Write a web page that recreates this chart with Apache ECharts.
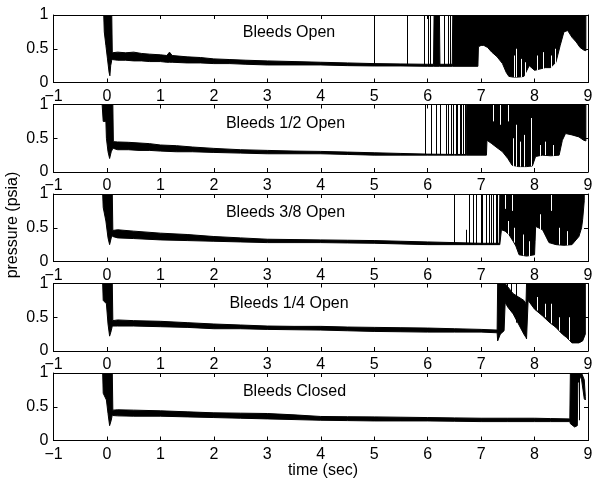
<!DOCTYPE html>
<html><head><meta charset="utf-8">
<script src="https://cdn.jsdelivr.net/npm/echarts@6/dist/echarts.min.js"></script>
<style>html,body{margin:0;padding:0;background:#fff}#c{width:597px;height:485px}</style>
</head><body><div id="c"></div>
<script>
// ---- data ----
const xMin = -1, xMax = 9, xStep = 1;
const yMin = 0, yMax = 1, yStep = 0.5;
const titles = ['Bleeds Open', 'Bleeds 1/2 Open', 'Bleeds 3/8 Open', 'Bleeds 1/4 Open', 'Bleeds Closed'];
const xName = 'time (sec)';
const yName = 'pressure (psia)';

// Panel 1: Bleeds Open (time, lower envelope, upper envelope of the trace)
const t1 = [-0.06,-0.05,-0.02,0.01,0.04,0.055,0.07,0.09,0.1,0.2,0.35,0.5,0.65,0.8,1.0,1.12,1.17,1.22,1.5,1.75,2.0,2.3,2.6,3.0,3.5,4.0,4.5,5.0,5.5,6.0,6.11,6.12,6.22,6.23,6.46,6.47,6.94,6.95,
  7.0,7.05,7.12,7.2,7.3,7.4,7.47,7.52,7.6,7.7,7.8,7.9,8.0,8.1,8.2,8.3,8.4,8.48,8.55,8.62,8.7,8.78,8.85,8.92,8.96];
const lo1 = [1.0,0.75,0.55,0.35,0.15,0.1,0.25,0.33,0.34,0.33,0.33,0.32,0.32,0.31,0.31,0.30,0.30,0.30,0.29,0.29,0.28,0.28,0.27,0.26,0.26,0.26,0.25,0.245,0.245,0.24,0.24,0.24,0.24,0.24,0.24,0.24,0.24,0.53,
  0.55,0.55,0.52,0.45,0.38,0.28,0.15,0.09,0.08,0.08,0.09,0.25,0.18,0.2,0.22,0.22,0.3,0.55,0.75,0.77,0.67,0.6,0.52,0.48,0.47];
const hi1 = [1,1,1,1,1,1,1,1,0.44,0.45,0.44,0.45,0.43,0.42,0.41,0.40,0.45,0.40,0.38,0.37,0.35,0.34,0.33,0.32,0.31,0.30,0.29,0.28,0.275,0.27,0.27,1,1,0.27,0.27,1,1,1,
  1,1,1,1,1,1,1,1,1,1,1,1,1,1,1,1,1,1,1,1,1,1,1,1,1];
// isolated excursions (time, from, to)
const sT1 = [5.0,5.62,5.93,6.0,6.05,6.3,6.38,6.42];
const sB1 = [0.26,0.26,0.25,0.25,0.25,0.25,0.25,0.25];
const sH1 = [1,1,1,1,1,1,1,1];
// white gaps inside the dense region (time, from, to)
const gT1 = [7.62,7.66,7.75,7.82,8.05,8.15,8.3,8.38];
const gB1 = [0.08,0.08,0.08,0.1,0.18,0.2,0.22,0.28];
const gH1 = [0.4,0.5,0.35,0.3,0.4,0.45,0.4,0.5];

// Panel 2: Bleeds 1/2 Open
const t2 = [-0.09,-0.07,-0.02,-0.01,0.02,0.05,0.08,0.11,0.12,0.2,0.4,0.6,0.8,1.0,1.3,1.6,2.0,2.5,3.0,3.5,4.0,4.5,5.0,5.5,6.0,6.5,6.72,
  6.73,7.1,7.11,7.2,7.28,7.4,7.5,7.58,7.7,7.85,7.96,8.02,8.15,8.3,8.46,8.52,8.58,8.7,8.83,8.92,8.96];
const lo2 = [1,0.75,0.75,0.5,0.3,0.2,0.3,0.35,0.35,0.33,0.33,0.32,0.32,0.31,0.30,0.30,0.29,0.28,0.27,0.27,0.27,0.26,0.25,0.25,0.25,0.25,0.25,
  0.25,0.25,0.47,0.42,0.37,0.3,0.2,0.1,0.08,0.08,0.09,0.23,0.25,0.24,0.25,0.47,0.57,0.55,0.52,0.47,0.46];
const hi2 = [1,1,1,1,1,1,1,1,0.45,0.445,0.44,0.43,0.42,0.40,0.39,0.37,0.35,0.33,0.32,0.31,0.305,0.295,0.285,0.275,0.265,0.26,0.26,
  1,1,1,1,1,1,1,1,1,1,1,1,1,1,1,1,1,1,1,1,1];
const sT2 = [5.95,6.07,6.15,6.24,6.34,6.38,6.43,6.48,6.53,6.55,6.6,6.63,6.66,6.69];
const sB2 = [0.26,0.26,0.26,0.26,0.26,0.26,0.26,0.26,0.26,0.26,0.26,0.26,0.26,0.26];
const sH2 = [1,1,1,1,1,1,1,1,1,1,1,1,1,1];
const gT2 = [7.22,7.35,7.5,7.6,7.65,7.72,7.8,7.93,8.1,8.2,8.35];
const gB2 = [0.75,0.7,0.75,0.09,0.08,0.08,0.08,0.09,0.24,0.25,0.24];
const gH2 = [1,1,1,0.5,0.7,0.45,0.55,0.8,0.4,0.45,0.4];

// Panel 3: Bleeds 3/8 Open
const t3 = [-0.08,-0.07,-0.02,0.02,0.05,0.08,0.1,0.11,0.2,0.5,1.0,1.5,2.0,2.5,3.0,3.5,4.0,4.5,5.0,5.5,6.0,6.5,7.0,7.34,
  7.35,7.38,7.45,7.52,7.6,7.65,7.71,7.85,8.0,8.01,8.02,8.15,8.27,8.4,8.55,8.7,8.83,8.88,8.9,8.93];
const lo3 = [1,0.8,0.6,0.35,0.25,0.35,0.38,0.37,0.35,0.34,0.32,0.31,0.30,0.29,0.28,0.28,0.28,0.275,0.27,0.26,0.25,0.25,0.25,0.25,
  0.25,0.47,0.45,0.4,0.3,0.23,0.1,0.08,0.1,0.3,0.52,0.47,0.28,0.25,0.24,0.25,0.37,0.5,0.62,0.9];
const hi3 = [1,1,1,1,1,1,1,0.46,0.47,0.45,0.42,0.40,0.37,0.35,0.33,0.325,0.32,0.315,0.31,0.30,0.29,0.28,0.27,0.27,
  1,1,1,1,1,1,1,1,1,1,1,1,1,1,1,1,1,1,1,1];
const sT3 = [6.49,6.72,6.78,6.84,6.9,6.99,7.02,7.09,7.15,7.19,7.23,7.27,7.3];
const sB3 = [0.25,0.25,0.25,0.25,0.25,0.25,0.25,0.25,0.25,0.25,0.25,0.25,0.25];
const sH3 = [1,0.47,1,1,1,1,1,1,1,1,1,1,1];
const gT3 = [7.45,7.5,7.58,7.62,7.78,7.9,8.1,8.3,8.45,8.6];
const gB3 = [0.78,0.4,0.75,0.28,0.09,0.08,0.47,0.75,0.25,0.24];
const gH3 = [1,0.6,1,0.5,0.4,0.3,0.7,1,0.5,0.45];

// Panel 4: Bleeds 1/4 Open
const t4 = [-0.08,-0.07,-0.01,0.02,0.05,0.08,0.1,0.11,0.2,0.5,1.0,1.5,2.0,2.5,3.0,3.5,4.0,4.5,5.0,5.5,6.0,6.5,7.0,7.3,
  7.31,7.36,7.43,7.45,7.5,7.6,7.7,7.8,7.84,7.85,7.88,8.0,8.15,8.27,8.4,8.52,8.6,8.7,8.83,8.9,8.95];
const lo4 = [1,0.75,0.7,0.4,0.22,0.3,0.37,0.37,0.37,0.37,0.36,0.35,0.33,0.33,0.32,0.315,0.31,0.30,0.29,0.285,0.28,0.28,0.28,0.27,
  0.15,0.25,0.3,0.72,0.65,0.55,0.4,0.25,0.2,0.18,0.75,0.62,0.52,0.43,0.35,0.25,0.2,0.12,0.12,0.15,0.25];
const hi4 = [1,1,1,1,1,1,1,0.45,0.46,0.45,0.44,0.42,0.40,0.385,0.37,0.365,0.365,0.355,0.35,0.345,0.34,0.33,0.32,0.31,
  1,1,1,1,0.95,0.85,0.8,0.75,0.7,1,1,1,1,1,1,1,1,1,1,1,1];
const sT4 = [7.48,7.56,7.66];
const sB4 = [0.7,0.58,0.42];
const sH4 = [1,1,1];
const gT4 = [8.05,8.2,8.3,8.45,8.65];
const gB4 = [0.6,0.5,0.41,0.3,0.16];
const gH4 = [0.8,0.7,0.7,0.5,0.5];

// Panel 5: Bleeds Closed
const t5 = [-0.08,-0.07,-0.01,0.02,0.05,0.08,0.1,0.11,0.2,0.5,1.0,1.5,2.0,2.5,3.0,3.5,4.0,4.5,5.0,5.5,6.0,6.5,7.0,7.5,8.0,8.3,8.66,8.67,8.75,8.8,8.81,8.86,8.88,8.93,8.95];
const lo5 = [1,0.7,0.6,0.4,0.22,0.3,0.38,0.37,0.365,0.36,0.36,0.35,0.34,0.33,0.32,0.31,0.30,0.295,0.29,0.29,0.29,0.285,0.28,0.28,0.28,0.28,0.28,0.25,0.2,0.22,0.85,0.95,0.9,0.62,0.6];
const hi5 = [1,1,1,1,1,1,1,0.45,0.455,0.45,0.44,0.425,0.41,0.405,0.40,0.38,0.356,0.352,0.35,0.345,0.34,0.335,0.33,0.33,0.33,0.325,0.32,1,1,1,1,1,1,0.9,0.65];
const sT5 = [8.83];
const sB5 = [0.3];
const sH5 = [1];
const gT5 = [];
const gB5 = [];
const gH5 = [];

const panels = [
  {t:t1, lo:lo1, hi:hi1, sT:sT1, sB:sB1, sH:sH1, gT:gT1, gB:gB1, gH:gH1},
  {t:t2, lo:lo2, hi:hi2, sT:sT2, sB:sB2, sH:sH2, gT:gT2, gB:gB2, gH:gH2},
  {t:t3, lo:lo3, hi:hi3, sT:sT3, sB:sB3, sH:sH3, gT:gT3, gB:gB3, gH:gH3},
  {t:t4, lo:lo4, hi:hi4, sT:sT4, sB:sB4, sH:sH4, gT:gT4, gB:gB4, gH:gH4},
  {t:t5, lo:lo5, hi:hi5, sT:sT5, sB:sB5, sH:sH5, gT:gT5, gB:gB5, gH:gH5}
];

// ---- layout ----
const FONT = 'Liberation Sans, Arial, Helvetica, sans-serif';
const FS = 16;
const gridTops = [15, 104.5, 194, 283.5, 373];
const gridH = 67.5;
const gridLeft = 53.5, gridRight = 9;
const titlePos = [[289, 33], [285.5, 124], [285.5, 213], [289, 304], [294.5, 392]];

const chart = echarts.init(document.getElementById('c'), null, {renderer: 'canvas'});
const grid = [], xAxis = [], yAxis = [], series = [], graphic = [];
const lineCol = '#000';
const fmtX = v => v < 0 ? '\u2212' + (-v) : String(v);

function vLines(i, T, B, H, color) {
  return {
    type: 'custom', xAxisIndex: i * 2, yAxisIndex: i * 2, silent: true, clip: true,
    data: T.map((x, k) => [x, B[k], H[k]]),
    encode: {x: 0, y: 1},
    renderItem: (params, api) => {
      const a = api.coord([api.value(0), api.value(1)]);
      const b = api.coord([api.value(0), api.value(2)]);
      const x = Math.round(a[0]) + 0.5;
      return {type: 'line', shape: {x1: x, y1: a[1], x2: x, y2: b[1]}, style: {stroke: color, lineWidth: 1}};
    }
  };
}

panels.forEach((p, i) => {
  grid.push({left: gridLeft, right: gridRight, top: gridTops[i], height: gridH, containLabel: false});
  const tick = {show: true, inside: true, length: 4, lineStyle: {color: lineCol, width: 1}};
  const axLine = {show: true, onZero: false, lineStyle: {color: lineCol, width: 1}};
  xAxis.push({type: 'value', gridIndex: i, position: 'bottom', min: xMin, max: xMax, interval: xStep,
    axisLine: axLine, axisTick: tick, splitLine: {show: false}, z: 5,
    axisLabel: {color: '#000', fontSize: FS, fontFamily: FONT, margin: 6, formatter: fmtX}});
  xAxis.push({type: 'value', gridIndex: i, position: 'top', min: xMin, max: xMax, interval: xStep,
    axisLine: axLine, axisTick: tick, splitLine: {show: false}, axisLabel: {show: false}, z: 5});
  yAxis.push({type: 'value', gridIndex: i, position: 'left', min: yMin, max: yMax, interval: yStep,
    axisLine: axLine, axisTick: tick, splitLine: {show: false}, z: 5,
    axisLabel: {color: '#000', fontSize: FS, fontFamily: FONT, margin: 5}});
  yAxis.push({type: 'value', gridIndex: i, position: 'right', min: yMin, max: yMax, interval: yStep,
    axisLine: axLine, axisTick: tick, splitLine: {show: false}, axisLabel: {show: false}, z: 5});

  // band (envelope of the dense pressure trace)
  series.push({
    type: 'custom', xAxisIndex: i * 2, yAxisIndex: i * 2, silent: true, clip: true, z: 2,
    data: [[p.t[0], p.lo[0]]],
    renderItem: (params, api) => {
      const pts = [];
      for (let k = 0; k < p.t.length; k++) pts.push(api.coord([p.t[k], p.hi[k]]));
      for (let k = p.t.length - 1; k >= 0; k--) pts.push(api.coord([p.t[k], p.lo[k]]));
      return {type: 'polygon', shape: {points: pts}, style: {fill: '#000', stroke: '#000', lineWidth: 1}};
    }
  });
  const s = vLines(i, p.sT, p.sB, p.sH, '#000'); s.z = 3; series.push(s);
  const g = vLines(i, p.gT, p.gB, p.gH, '#fff'); g.z = 4; series.push(g);

  graphic.push({type: 'text', x: titlePos[i][0], y: titlePos[i][1], z: 100,
    style: {text: titles[i], font: FS + 'px ' + FONT, fill: '#000', textAlign: 'center', textVerticalAlign: 'middle'}});
});

graphic.push({type: 'text', x: 323, y: 471, z: 100,
  style: {text: xName, font: FS + 'px ' + FONT, fill: '#000', textAlign: 'center', textVerticalAlign: 'middle'}});
graphic.push({type: 'text', x: 13, y: 225, rotation: Math.PI / 2, z: 100,
  style: {text: yName, font: FS + 'px ' + FONT, fill: '#000', textAlign: 'center', textVerticalAlign: 'middle'}});

chart.setOption({animation: false, backgroundColor: '#fff', grid, xAxis, yAxis, series, graphic});
</script>
</body></html>
